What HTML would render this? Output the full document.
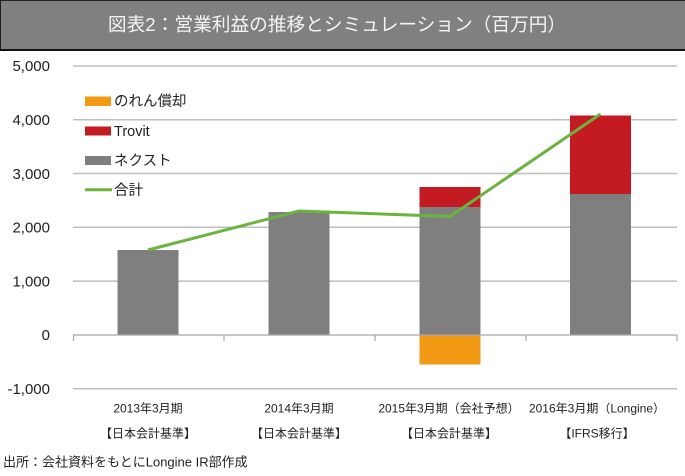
<!DOCTYPE html>
<html><head><meta charset="utf-8">
<style>
html,body{margin:0;padding:0;background:#fff;}
body{width:685px;height:476px;overflow:hidden;position:relative;font-family:"Liberation Sans","Noto Sans CJK JP",sans-serif;}
svg{position:absolute;left:0;top:0;}
text{font-family:"Liberation Sans","Noto Sans CJK JP",sans-serif;}
</style></head><body>
<svg width="685" height="476" viewBox="0 0 685 476" xmlns="http://www.w3.org/2000/svg">
  <!-- title bar -->
  <rect x="0" y="0" width="685" height="50" fill="#808080"/>
  <rect x="0" y="0" width="685" height="1" fill="#222"/>
  <rect x="0" y="0" width="1" height="50" fill="#222"/>
  <rect x="0" y="49" width="685" height="2" fill="#111"/>
  <text x="337" y="31" text-anchor="middle" font-size="18.7" fill="#f4f4f4">図表2：営業利益の推移とシミュレーション（百万円）</text>

  <!-- gridlines -->
  <g stroke="#bfbfbf" stroke-width="1.5">
    <line x1="73" y1="66" x2="677" y2="66"/>
    <line x1="73" y1="119.7" x2="677" y2="119.7"/>
    <line x1="73" y1="173.5" x2="677" y2="173.5"/>
    <line x1="73" y1="227.3" x2="677" y2="227.3"/>
    <line x1="73" y1="281.1" x2="677" y2="281.1"/>
    <line x1="73" y1="388.8" x2="677" y2="388.8"/>
  </g>

  <!-- y labels -->
  <g font-size="15" fill="#222" text-anchor="end">
    <text x="50" y="71">5,000</text>
    <text x="50" y="125">4,000</text>
    <text x="50" y="179">3,000</text>
    <text x="50" y="232.5">2,000</text>
    <text x="50" y="286.5">1,000</text>
    <text x="50" y="340">0</text>
    <text x="50" y="394">-1,000</text>
  </g>

  <!-- bars -->
  <rect x="117.5" y="250" width="61" height="85" fill="#7f7f7f"/>
  <rect x="268.5" y="212" width="61" height="123" fill="#7f7f7f"/>
  <rect x="419.5" y="207" width="61" height="128" fill="#7f7f7f"/>
  <rect x="419.5" y="187" width="61" height="20" fill="#c41a22"/>
  <rect x="419.5" y="335" width="61" height="29.5" fill="#f39a14"/>
  <rect x="570" y="194" width="61" height="141" fill="#7f7f7f"/>
  <rect x="570" y="115.5" width="61" height="78.5" fill="#c41a22"/>

  <!-- zero axis & ticks -->
  <g stroke="#a6a6a6" stroke-width="1.2">
    <line x1="73" y1="335" x2="677" y2="335"/>
    <line x1="73.5" y1="335" x2="73.5" y2="341"/>
    <line x1="224" y1="335" x2="224" y2="341"/>
    <line x1="375" y1="335" x2="375" y2="341"/>
    <line x1="526" y1="335" x2="526" y2="341"/>
    <line x1="677" y1="335" x2="677" y2="341"/>
  </g>

  <!-- total line -->
  <polyline points="148,250 299,211 450,216.5 600.5,114" fill="none" stroke="#6db33f" stroke-width="3" stroke-linejoin="round"/>

  <!-- legend -->
  <rect x="85" y="96.5" width="26" height="9.5" fill="#f39a14"/>
  <text x="114" y="106" font-size="14.5" fill="#222">のれん償却</text>
  <rect x="85" y="126.5" width="26" height="9" fill="#c41a22"/>
  <text x="114" y="136" font-size="14.5" fill="#222">Trovit</text>
  <rect x="85" y="156" width="26" height="9" fill="#7f7f7f"/>
  <text x="114" y="165.5" font-size="14.5" fill="#222">ネクスト</text>
  <line x1="85" y1="189.7" x2="112" y2="189.7" stroke="#6db33f" stroke-width="3"/>
  <text x="114" y="195" font-size="14.5" fill="#222">合計</text>

  <!-- category labels -->
  <g font-size="12" fill="#222" text-anchor="middle">
    <text x="148" y="412.5">2013年3月期</text>
    <text x="148" y="437.5">【日本会計基準】</text>
    <text x="299" y="412.5">2014年3月期</text>
    <text x="299" y="437.5">【日本会計基準】</text>
    <text x="449" y="412.5">2015年3月期（会社予想）</text>
    <text x="449" y="437.5">【日本会計基準】</text>
    <text x="597" y="412.5">2016年3月期（Longine）</text>
    <text x="597" y="437.5">【IFRS移行】</text>
  </g>

  <!-- footnote -->
  <text x="3" y="466.5" font-size="13" fill="#222">出所：会社資料をもとにLongine IR部作成</text>
</svg>
</body></html>
